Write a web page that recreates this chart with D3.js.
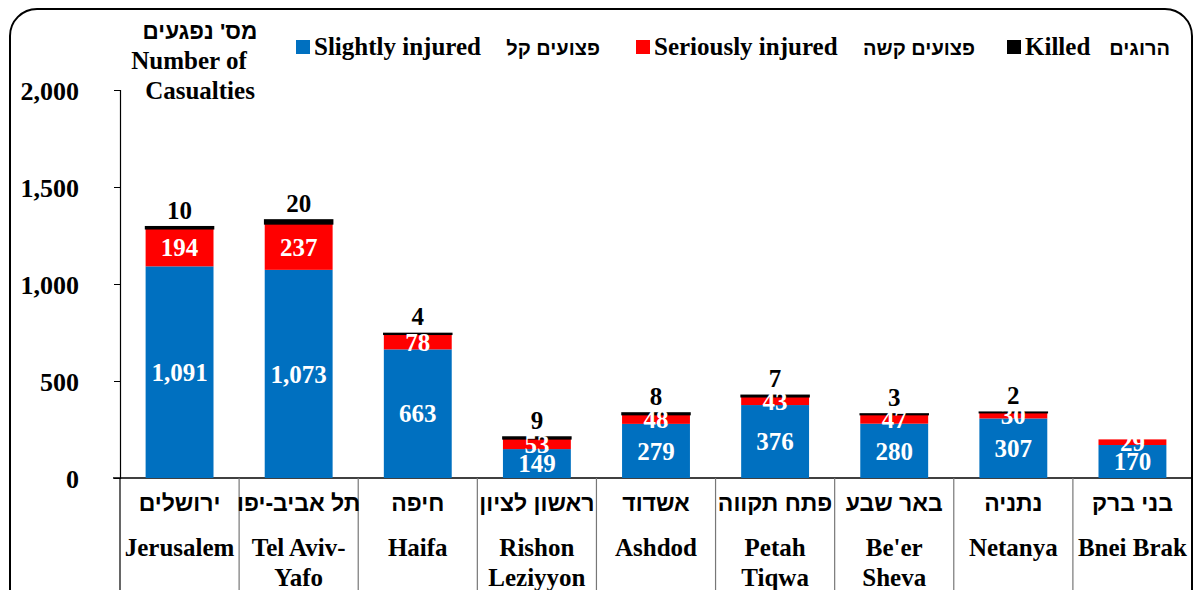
<!DOCTYPE html>
<html><head><meta charset="utf-8">
<script src="https://cdn.jsdelivr.net/npm/d3@7"></script>
<style>
body{margin:0;background:#fff;}
text{font-family:"Liberation Serif","Times New Roman",serif;font-weight:bold;}
text.he{font-family:"Liberation Sans","DejaVu Sans",sans-serif;font-weight:bold;}
</style></head>
<body><svg id="c" width="1195" height="590"></svg>
<script>
const categoriesHe = ["ירושלים","תל אביב-יפו","חיפה","ראשון לציון","אשדוד","פתח תקווה","באר שבע","נתניה","בני ברק"];
const categoriesEn = [["Jerusalem"],["Tel Aviv-","Yafo"],["Haifa"],["Rishon","Leziyyon"],["Ashdod"],["Petah","Tiqwa"],["Be'er","Sheva"],["Netanya"],["Bnei Brak"]];
const slightly = [1091,1073,663,149,279,376,280,307,170];
const serious  = [194,237,78,53,48,43,47,30,29];
const killed   = [10,20,4,9,8,7,3,2,0];
const yTicks = [0,500,1000,1500,2000];
const seriesNames = [["Slightly injured","פצועים קל"],["Seriously injured","פצועים קשה"],["Killed","הרוגים"]];
const colors = ["#0070C0","#FF0000","#000000"];

const svg = d3.select("#c");
svg.append("rect").attr("x",10).attr("y",9).attr("width",1182).attr("height",610).attr("rx",27)
  .attr("fill","none").attr("stroke","#000").attr("stroke-width",2);

const mLeft=120,mRight=1192,mTop=90,mBottom=478;
const x = d3.scaleBand().domain(d3.range(categoriesHe.length)).range([mLeft,mRight]).paddingInner(0.43).paddingOuter(0.215);
const y = d3.scaleLinear().domain([0,2000]).range([mBottom,mTop]);

// y axis
const ya = svg.append("g").attr("transform",`translate(${mLeft},0)`)
  .call(d3.axisLeft(y).tickValues(yTicks).tickFormat(d3.format(",")).tickSize(6).tickPadding(35));
ya.attr("font-family",null);
ya.select(".domain").attr("stroke","#000").attr("stroke-width",1.2);
ya.selectAll(".tick line").attr("stroke","#000");
ya.selectAll(".tick text").style("font-size","26px").attr("fill","#000").attr("dy","0.35em");

// x axis line
svg.append("line").attr("x1",mLeft-7).attr("x2",mRight).attr("y1",mBottom).attr("y2",mBottom).attr("stroke","#000").attr("stroke-width",1.5);
// category dividers
const step = x.step();
d3.range(categoriesHe.length+1).forEach(i=>{
  const xx = mLeft + i*step;
  svg.append("line").attr("x1",xx).attr("x2",xx).attr("y1",mBottom).attr("y2",590)
    .attr("stroke", (i===0||i===categoriesHe.length)?"#000":"#777").attr("stroke-width",1.2);
});

const stackData = categoriesHe.map((c,i)=>({i, s:slightly[i], r:serious[i], k:killed[i]}));
const stack = d3.stack().keys(["s","r","k"])(stackData);
const g = svg.append("g");
stack.forEach((layer,li)=>{
  g.selectAll(null).data(layer.filter(d=>d[1]-d[0]>0)).join("rect")
    .attr("x",d=>x(d.data.i)).attr("width",x.bandwidth())
    .attr("y",d=>y(d[1])).attr("height",d=>y(d[0])-y(d[1]))
    .attr("fill",colors[li])
    .attr("stroke", li===2 ? "#000" : "none").attr("stroke-width", li===2 ? 1.6 : 0);
});
// labels
stack.forEach((layer,li)=>{
  g.selectAll(null).data(layer.filter(d=>d[1]-d[0]>0)).join("text")
    .attr("x",d=>x(d.data.i)+x.bandwidth()/2)
    .attr("y",d=> li<2 ? (y(d[0])+y(d[1]))/2 : y(d[1])-8)
    .attr("dy", li<2 ? "0.35em" : "0")
    .attr("text-anchor","middle")
    .attr("fill", li<2 ? "#fff" : "#000")
    .style("font-size","25px")
    .text(d=>d3.format(",")(d[1]-d[0]));
});

// category labels
categoriesHe.forEach((c,i)=>{
  const cx = x(i)+x.bandwidth()/2;
  svg.append("text").attr("class","he").attr("x",cx).attr("y",511).attr("text-anchor","middle").style("font-size","23px").text(c);
  categoriesEn[i].forEach((t,j)=>{
    svg.append("text").attr("x",cx).attr("y",556+j*30).attr("text-anchor","middle").style("font-size","25px").text(t);
  });
});

// y title
svg.append("text").attr("class","he").attr("x",200).attr("y",39).attr("text-anchor","middle").style("font-size","22.5px").text("מס' נפגעים");
[["Number of",69,189],["Casualties",99,200]].forEach(([t,yy,xx])=>{
  svg.append("text").attr("x",xx).attr("y",yy).attr("text-anchor","middle").style("font-size","25px").text(t);
});

// legend
const legX = [296,636,1007];
const heX = [600,975,1170];
seriesNames.forEach((n,i)=>{
  svg.append("rect").attr("x",legX[i]).attr("y",40).attr("width",14).attr("height",14).attr("fill",colors[i]);
  svg.append("text").attr("x",legX[i]+18).attr("y",55).style("font-size","25px").text(n[0]);
  svg.append("text").attr("class","he").attr("x",heX[i]).attr("y",55).attr("text-anchor","end").style("font-size","20px").text(n[1]);
});
</script></body></html>
